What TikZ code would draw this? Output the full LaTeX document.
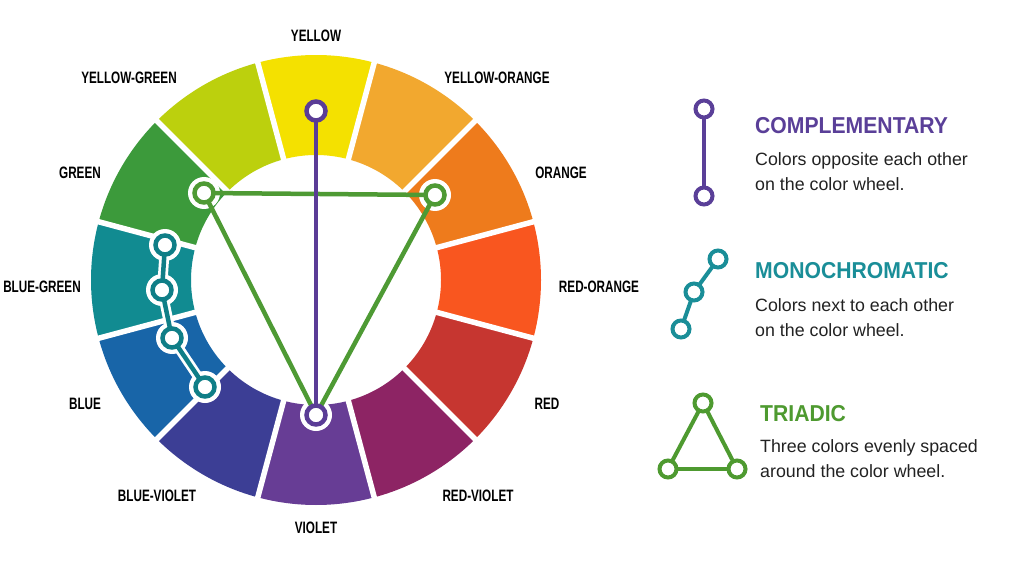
\documentclass[tikz,border=0pt]{standalone}
\usepackage{fontspec}
\setmainfont{Liberation Sans}
\newfontfamily\labfont{Liberation Sans}[FakeStretch=0.71]
\newfontfamily\ttlfont{Liberation Sans}[FakeStretch=0.92]
\pgfdeclarelayer{wheel}
\pgfdeclarelayer{links}
\pgfsetlayers{wheel,links,main}
\definecolor{cY}{HTML}{F4E100}
\definecolor{cYO}{HTML}{F2A82F}
\definecolor{cO}{HTML}{EE7B1C}
\definecolor{cRO}{HTML}{F9561F}
\definecolor{cR}{HTML}{C63630}
\definecolor{cRV}{HTML}{8D2464}
\definecolor{cV}{HTML}{673D95}
\definecolor{cBV}{HTML}{3C3E95}
\definecolor{cB}{HTML}{1865A8}
\definecolor{cBG}{HTML}{118B91}
\definecolor{cG}{HTML}{3C9A3B}
\definecolor{cYG}{HTML}{BCD00D}
\definecolor{compP}{HTML}{5A3C96}
\definecolor{triG}{HTML}{4E9A34}
\definecolor{monoT}{HTML}{0F7E87}
\definecolor{lpurple}{HTML}{5A3F98}
\definecolor{lteal}{HTML}{1A8E98}
\definecolor{lgreen}{HTML}{4E9A30}
\definecolor{ink}{HTML}{222222}
\begin{document}
\begin{tikzpicture}[x=1pt,y=-1pt,
  wmark/.style={circle,draw,fill=white,line width=4.5pt,minimum size=19pt,inner sep=0pt},
  compmk/.style={wmark,draw=compP},
  trimk/.style={wmark,draw=triG},
  monomk/.style={wmark,draw=monoT},
  legmk/.style={circle,draw,fill=white,line width=4pt,minimum size=17pt,inner sep=0pt},
  lab/.style={inner sep=0pt,text=black,font=\labfont\bfseries\fontsize{16.5}{16.5}\selectfont},
  ttl/.style={inner sep=0pt,anchor=base west,font=\ttlfont\bfseries\fontsize{23}{23}\selectfont},
  body/.style={inner sep=0pt,anchor=base west,text=ink,font=\fontsize{17.8}{20}\selectfont},
  halofill/.style={fill=white},
  wlink/.style={line width=4.5pt},
  llink/.style={line width=4pt}]
\useasboundingbox (0,0) rectangle (1024,585);

% markers on the wheel
\node[compmk] (wY) at (316,111) {};
\node[compmk] (wV) at (316,415) {};
\node[trimk] (wG) at (204,193) {};
\node[trimk] (wO) at (435,195) {};
\node[monomk] (m1) at (165,245) {};
\node[monomk] (m2) at (162,290) {};
\node[monomk] (m3) at (172,338) {};
\node[monomk] (m4) at (205,387) {};

% legend icons
\node[legmk,draw=lpurple] (c1) at (704,109) {};
\node[legmk,draw=lpurple] (c2) at (704,196) {};
\node[legmk,draw=lteal] (n1) at (718,259) {};
\node[legmk,draw=lteal] (n2) at (694,292) {};
\node[legmk,draw=lteal] (n3) at (681,329) {};
\node[legmk,draw=lgreen] (t1) at (703,403) {};
\node[legmk,draw=lgreen] (t2) at (668,469) {};
\node[legmk,draw=lgreen] (t3) at (737,469) {};

\begin{pgfonlayer}{wheel}
\fill[white] (0,0) rectangle (1024,585);
\begin{scope}[shift={(316,280)}]
\foreach \c [count=\i from 0] in {cY,cYO,cO,cRO,cR,cRV,cV,cBV,cB,cBG,cG,cYG} {
  \pgfmathsetmacro\s{-105+30*\i}
  \pgfmathsetmacro\e{-75+30*\i}
  \fill[fill=\c] (\s:125) arc[start angle=\s,end angle=\e,radius=125]
     -- (\e:225) arc[start angle=\e,end angle=\s,radius=225] -- cycle;
}
\foreach \b in {-75,-45,...,255} \draw[white,line width=5.5pt] (\b:118) -- (\b:232);
\end{scope}
\foreach \n in {wV,wG,wO,m1,m2,m3,m4} \fill[halofill] (\n.center) circle[radius=16];
\draw[white,line width=10pt,line cap=round] (m1.center) -- (m2.center) -- (m3.center) -- (m4.center);
\end{pgfonlayer}

\begin{pgfonlayer}{links}
\draw[wlink,triG] (wG.center) -- (wO.center);
\draw[wlink,triG] (wO.center) -- (wV.center);
\draw[wlink,triG] (wV.center) -- (wG.center);
\draw[wlink,compP] (wY.center) -- (wV.center);
\draw[wlink,monoT] (m1.center) -- (m2.center);
\draw[wlink,monoT] (m2.center) -- (m3.center);
\draw[wlink,monoT] (m3.center) -- (m4.center);
\draw[llink,lpurple] (c1.center) -- (c2.center);
\draw[llink,lteal] (n1.center) -- (n2.center);
\draw[llink,lteal] (n2.center) -- (n3.center);
\draw[llink,lgreen] (t1.center) -- (t2.center);
\draw[llink,lgreen] (t2.center) -- (t3.center);
\draw[llink,lgreen] (t3.center) -- (t1.center);
\end{pgfonlayer}

% wheel labels
\node[lab] (lY) at (316,36) {YELLOW};
\node[lab] (lYO) at (497,78) {YELLOW-ORANGE};
\node[lab] (lO) at (561,173) {ORANGE};
\node[lab] (lRO) at (599,287) {RED-ORANGE};
\node[lab] (lR) at (547,404) {RED};
\node[lab] (lRV) at (478,496) {RED-VIOLET};
\node[lab] (lV) at (316,528) {VIOLET};
\node[lab] (lBV) at (157,496) {BLUE-VIOLET};
\node[lab] (lB) at (85,404) {BLUE};
\node[lab] (lBG) at (42,287) {BLUE-GREEN};
\node[lab] (lG) at (80,173) {GREEN};
\node[lab] (lYG) at (129,78) {YELLOW-GREEN};

% legend texts
\node[ttl,text=lpurple] (hC) at (755,134) {COMPLEMENTARY};
\node[body] (bC1) at (755,166) {Colors opposite each other};
\node[body] (bC2) at (755,191) {on the color wheel.};
\node[ttl,text=lteal] (hM) at (755,278) {MONOCHROMATIC};
\node[body] (bM1) at (755,311) {Colors next to each other};
\node[body] (bM2) at (755,336) {on the color wheel.};
\node[ttl,text=lgreen] (hT) at (760,421) {TRIADIC};
\node[body] (bT1) at (760,452) {Three colors evenly spaced};
\node[body] (bT2) at (760,477) {around the color wheel.};
\end{tikzpicture}
\end{document}
